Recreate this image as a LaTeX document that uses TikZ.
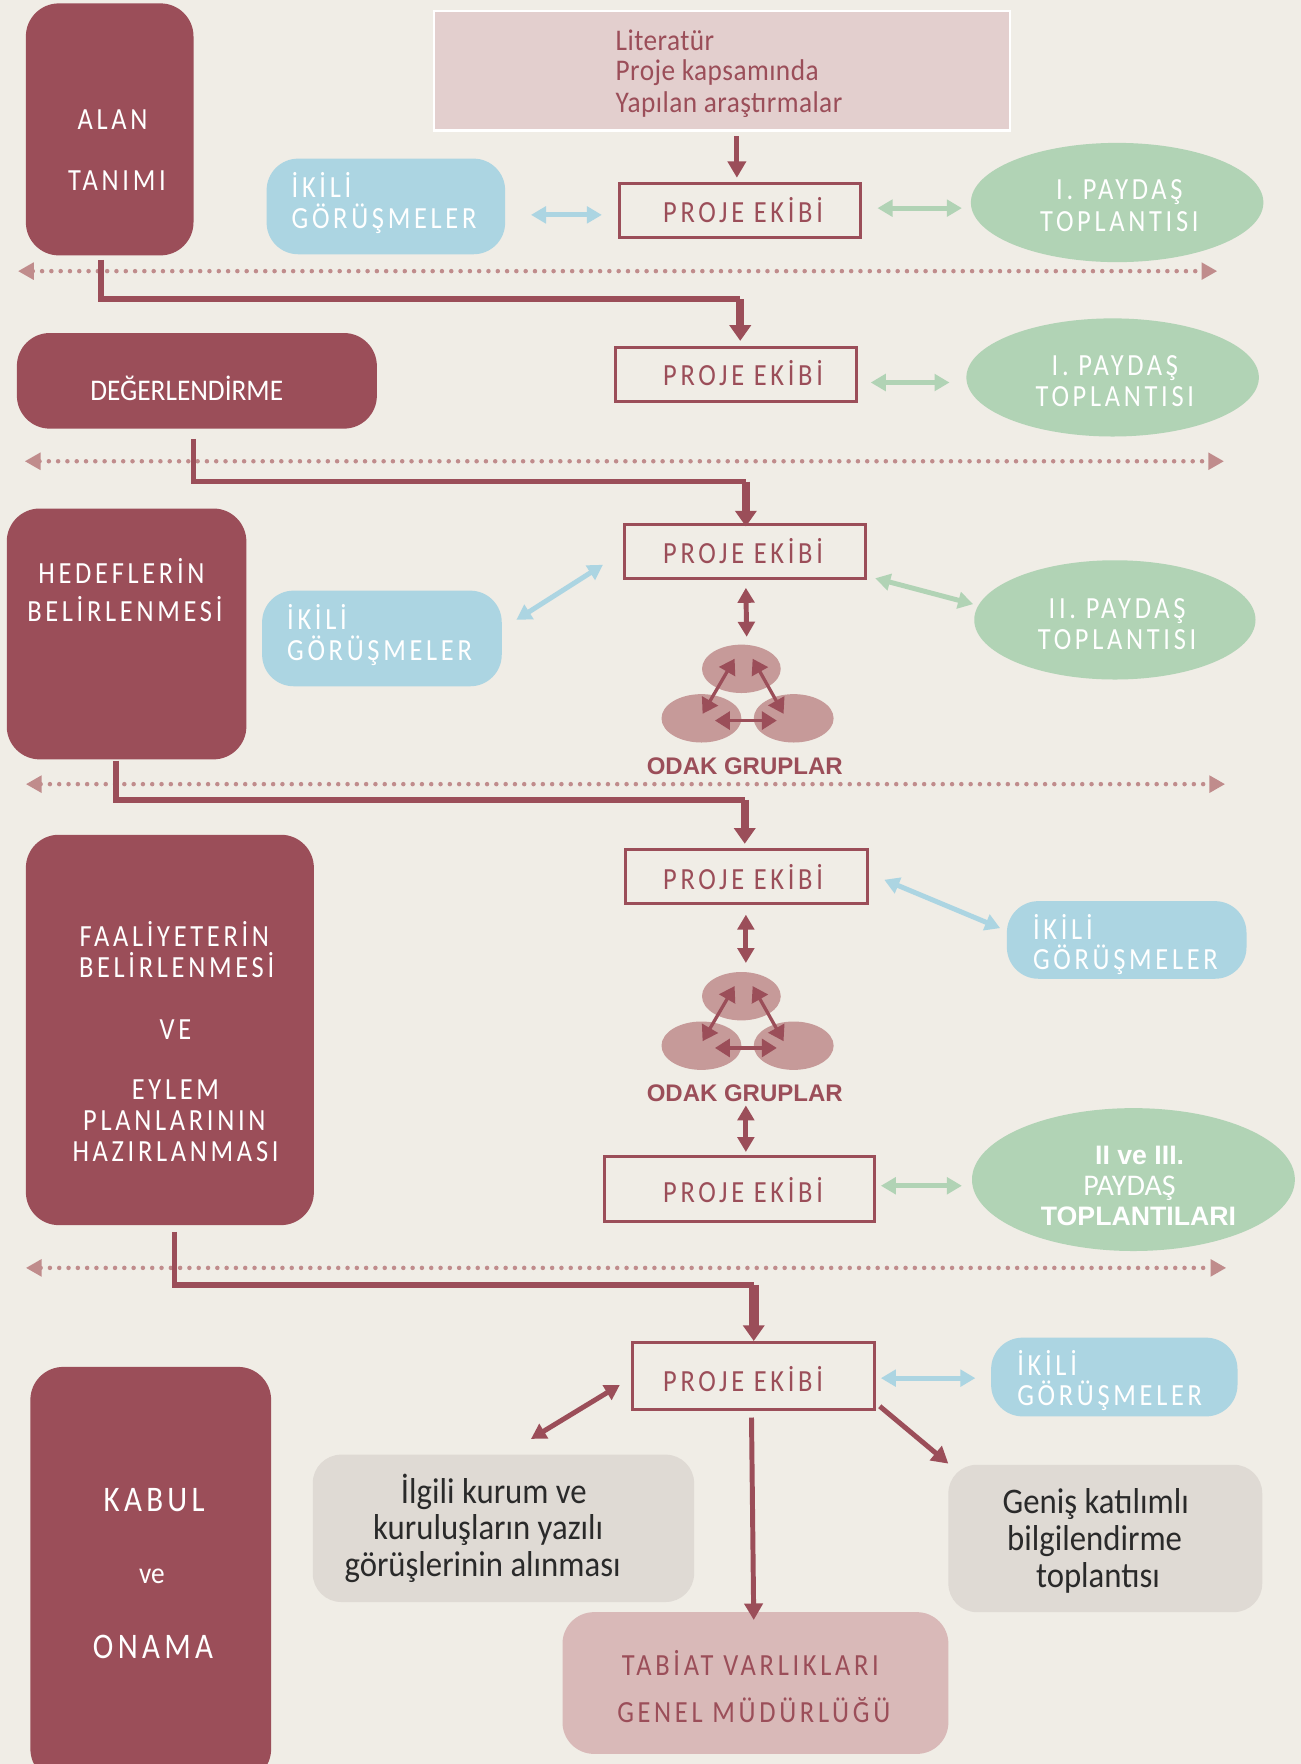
\documentclass[tikz,border=0pt]{standalone}
\usepackage{fontspec}
\setmainfont{Carlito}
\newfontfamily\araliklifont[LetterSpace=12,FakeStretch=0.86]{Carlito}
\newfontfamily\darfont[FakeStretch=0.91]{Carlito}
\newfontfamily\litfont[LetterSpace=1.5,FakeStretch=0.91]{Carlito}
\newfontfamily\kalinfont{Liberation Sans}
\usetikzlibrary{arrows.meta,shapes.geometric}

\definecolor{zemin}{HTML}{F0EDE6}
\definecolor{bordo}{HTML}{9B4E59}
\definecolor{pembe}{HTML}{E3CFCE}
\definecolor{gulkurusu}{HTML}{D9B9B8}
\definecolor{mavi}{HTML}{ACD5E2}
\definecolor{yesil}{HTML}{B1D3B5}
\definecolor{noktarenk}{HTML}{C08C8C}
\definecolor{odakrenk}{HTML}{C69A99}
\definecolor{gri}{HTML}{DFDAD4}
\definecolor{koyu}{HTML}{2A2A2A}

\tikzset{
  asama/.style={fill=bordo,rounded corners=22pt},
  ikili/.style={fill=mavi,rounded corners=21pt},
  grikutu/.style={fill=gri,rounded corners=19pt},
  ekip/.style={draw=bordo,line width=2pt},
  paydas/.style={ellipse,fill=yesil},
  odak/.style={ellipse,fill=odakrenk},
  yazi/.style={inner sep=0pt,text height=13pt,text depth=0pt,font=\fontsize{20.5}{24}\selectfont\araliklifont},
  beyaz/.style={yazi,text=white},
  bordoyazi/.style={yazi,text=bordo},
  litstil/.style={bordoyazi,font=\fontsize{20}{24}\selectfont\litfont},
  siyah/.style={inner sep=0pt,text height=14pt,text depth=0pt,text=koyu,font=\fontsize{24}{28}\selectfont\darfont},
  kalinyazi/.style={inner sep=0pt,text height=12.5pt,text depth=0pt,font=\fontsize{17.8}{20}\selectfont\kalinfont\bfseries},
  noktali/.style={noktarenk,line width=3pt,line cap=round,dash pattern=on 0pt off 6.2pt,
    {Triangle[length=10.5pt,width=11pt]}-{Triangle[length=10.5pt,width=11pt]}},
  cift/.style={line width=3.3pt,{Triangle[length=10pt,width=11pt]}-{Triangle[length=10pt,width=11pt]}},
  maviok/.style={cift,mavi},
  yesilok/.style={cift,yesil},
  bordook/.style={cift,bordo},
  kucukok/.style={bordo,line width=2.2pt,{Triangle[length=10pt,width=12pt]}-{Triangle[length=10pt,width=12pt]}},
  hat/.style={bordo,line width=3.8pt},
  inis/.style={bordo,line width=5.5pt,-{Triangle[length=10.5pt,width=14pt]}},
  tekok/.style={bordo,line width=3.3pt,-{Triangle[length=11pt,width=12pt]}},
}

% kutu: style, x1, y1, x2, y2, name
\newcommand{\kutu}[6]{\node[#1,inner sep=0pt,outer sep=0pt,minimum width={(#4-#2)*0.75pt},minimum height={(#5-#3)*0.75pt}] (#6) at ({(#2+#4)/2},{(#3+#5)/2}) {};}

\begin{document}
\begin{tikzpicture}[x=0.75pt,y=-0.75pt]
\useasboundingbox (0,0) rectangle (1156,1568);
\fill[zemin] (0,0) rectangle (1156,1568);

%left column
\kutu{asama}{23}{3}{172}{227}{alan}
\kutu{asama}{15}{296}{335}{381}{deger}
\kutu{asama}{6}{452}{219}{675}{hedef}
\kutu{asama}{23}{742}{279}{1089}{faaliyet}
\kutu{asama}{27}{1215}{241}{1584}{kabul}

% Text Node
\node[beyaz] (alan1) at (100,106) {ALAN};
\node[beyaz] (alan2) at (104,161) {TANIMI};
\node[beyaz,font=\fontsize{20}{24}\selectfont\darfont] (deger1) at (166,347) {DEĞERLENDİRME};
\node[beyaz] (hedef1) at (108,510) {HEDEFLERİN};
\node[beyaz] (hedef2) at (111,544) {BELİRLENMESİ};
\node[beyaz] (faal1) at (155,833) {FAALİYETERİN};
\node[beyaz] (faal2) at (157,860) {BELİRLENMESİ};
\node[beyaz] (faal3) at (156,915) {VE};
\node[beyaz] (faal4) at (156,969) {EYLEM};
\node[beyaz] (faal5) at (155,996) {PLANLARININ};
\node[beyaz] (faal6) at (156,1024) {HAZIRLANMASI};
\node[beyaz,font=\fontsize{24}{28}\selectfont\araliklifont,text height=15.5pt] (kabul1) at (137,1333) {KABUL};
\node[beyaz,font=\fontsize{20}{24}\selectfont\darfont,text height=10pt] (kabul2) at (135,1401) {ve};
\node[beyaz,font=\fontsize{24}{28}\selectfont\araliklifont,text height=15.5pt] (kabul3) at (136,1464) {ONAMA};

%literature box
\kutu{fill=pembe,draw=white,line width=1.5pt}{386}{10}{898}{116}{lit}
\node[litstil,anchor=west] (lit1) at (547,36) {Literatür};
\node[litstil,anchor=west] (lit2) at (547,63) {Proje kapsamında};
\node[litstil,anchor=west] (lit3) at (547,91) {Yapılan araştırmalar};

%project team boxes
\kutu{ekip}{551}{163}{765}{211}{ekip1}
\kutu{ekip}{547}{309}{761}{357}{ekip2}
\kutu{ekip}{555}{466}{769}{514}{ekip3}
\kutu{ekip}{556}{755}{771}{803}{ekip4}
\kutu{ekip}{537}{1028}{777}{1086}{ekip5}
\kutu{ekip}{562}{1193}{777}{1253}{ekip6}
\node[bordoyazi] (ekip1t) at (660.5,189) {PROJE EKİBİ};
\node[bordoyazi] (ekip2t) at (660.5,334) {PROJE EKİBİ};
\node[bordoyazi] (ekip3t) at (660.5,492) {PROJE EKİBİ};
\node[bordoyazi] (ekip4t) at (660.5,782) {PROJE EKİBİ};
\node[bordoyazi] (ekip5t) at (660.5,1060) {PROJE EKİBİ};
\node[bordoyazi] (ekip6t) at (660.5,1228) {PROJE EKİBİ};

%bilateral meetings
\kutu{ikili}{237}{141}{449}{226}{ikili1}
\kutu{ikili}{233}{525}{446}{610}{ikili2}
\kutu{ikili}{895}{801}{1108}{870}{ikili3}
\kutu{ikili}{881}{1189}{1100}{1259}{ikili4}
\node[beyaz,anchor=west] (ikili1a) at (259,167) {İKİLİ};
\node[beyaz,anchor=west] (ikili1b) at (259,194) {GÖRÜŞMELER};
\node[beyaz,anchor=west] (ikili2a) at (255,551) {İKİLİ};
\node[beyaz,anchor=west] (ikili2b) at (255,578) {GÖRÜŞMELER};
\node[beyaz,anchor=west] (ikili3a) at (918,826) {İKİLİ};
\node[beyaz,anchor=west] (ikili3b) at (918,853) {GÖRÜŞMELER};
\node[beyaz,anchor=west] (ikili4a) at (904,1214) {İKİLİ};
\node[beyaz,anchor=west] (ikili4b) at (904,1241) {GÖRÜŞMELER};

%stakeholder meetings
\kutu{paydas}{863}{127}{1123}{233}{pay1}
\kutu{paydas}{859}{283}{1119}{388}{pay2}
\kutu{paydas}{866}{498}{1116}{604}{pay3}
\kutu{paydas}{864}{985}{1151}{1112}{pay4}
\node[beyaz] (pay1a) at (995,169) {I. PAYDAŞ};
\node[beyaz] (pay1b) at (995,197) {TOPLANTISI};
\node[beyaz] (pay2a) at (991,325) {I. PAYDAŞ};
\node[beyaz] (pay2b) at (991,353) {TOPLANTISI};
\node[beyaz] (pay3a) at (993,541) {II. PAYDAŞ};
\node[beyaz] (pay3b) at (993,569) {TOPLANTISI};
\node[kalinyazi,text=white] (pay4a) at (1013,1027) {II ve III.};
\node[beyaz,font=\fontsize{20}{24}\selectfont] (pay4b) at (1004,1054) {PAYDAŞ};
\node[kalinyazi,text=white] (pay4c) at (1012,1081) {TOPLANTILARI};

%focus groups
\kutu{odak}{624}{573}{694}{616}{ust1}
\kutu{odak}{588}{617}{659}{660}{sol1}
\kutu{odak}{670}{617}{741}{660}{sag1}
\kutu{odak}{624}{864}{694}{907}{ust2}
\kutu{odak}{588}{908}{659}{951}{sol2}
\kutu{odak}{670}{908}{741}{951}{sag2}
\node[kalinyazi,text=bordo,font=\fontsize{16}{20}\selectfont\kalinfont\bfseries] (odak1) at (662,680) {ODAK GRUPLAR};
\node[kalinyazi,text=bordo,font=\fontsize{16}{20}\selectfont\kalinfont\bfseries] (odak2) at (662,971) {ODAK GRUPLAR};
\draw[kucukok] ([shift={(-6,-9)}]ust1.center) -- ([shift={(1,-4)}]sol1.center);
\draw[kucukok] ([shift={(10,-9)}]ust1.center) -- ([shift={(-9,-4)}]sag1.center);
\draw[kucukok] ([shift={(12,2)}]sol1.center) -- ([shift={(-15,2)}]sag1.center);
\draw[kucukok] ([shift={(-6,-9)}]ust2.center) -- ([shift={(1,-4)}]sol2.center);
\draw[kucukok] ([shift={(10,-9)}]ust2.center) -- ([shift={(-9,-4)}]sag2.center);
\draw[kucukok] ([shift={(12,2)}]sol2.center) -- ([shift={(-15,2)}]sag2.center);

%lower boxes
\kutu{grikutu}{278}{1293}{617}{1424}{ilgili}
\kutu{grikutu}{843}{1302}{1122}{1433}{genis}
\kutu{fill=gulkurusu,rounded corners=21pt}{500}{1433}{843}{1559}{tabiat}
\node[siyah] (ilgili1) at (439,1327) {İlgili kurum ve};
\node[siyah] (ilgili2) at (434,1359) {kuruluşların yazılı};
\node[siyah] (ilgili3) at (429,1392) {görüşlerinin alınması};
\node[siyah] (genis1) at (974,1336) {Geniş katılımlı};
\node[siyah] (genis2) at (973,1369) {bilgilendirme};
\node[siyah] (genis3) at (976,1402) {toplantısı};
\node[bordoyazi] (tabiat1) at (667,1481) {TABİAT VARLIKLARI};
\node[bordoyazi] (tabiat2) at (670,1522) {GENEL MÜDÜRLÜĞÜ};

%dotted separators
\coordinate (nok1a) at (16,241);
\coordinate (nok1b) at (1082,241);
\coordinate (nok2a) at (22,410);
\coordinate (nok2b) at (1088,410);
\coordinate (nok3a) at (23,697);
\coordinate (nok3b) at (1089,697);
\coordinate (nok4a) at (23,1127);
\coordinate (nok4b) at (1090,1127);
\draw[noktali] (nok1a) -- (nok1b);
\draw[noktali] (nok2a) -- (nok2b);
\draw[noktali] (nok3a) -- (nok3b);
\draw[noktali] (nok4a) -- (nok4b);

%connectors between stages
\coordinate (kose1) at (658,266);
\coordinate (kose2) at (663,428);
\coordinate (kose3) at (662,711);
\coordinate (kose4) at (670,1142);
\draw[hat] ([shift={(-7.5,4)}]alan.south) |- (kose1);
\draw[inis] (kose1) -- ([shift={(0,-6)}]kose1 |- ekip2.north);
\draw[hat] ([shift={(-3,9)}]deger.south) |- (kose2);
\draw[inis] (kose2) -- ([shift={(0,2)}]kose2 |- ekip3.north);
\draw[hat] ([shift={(-9.5,1)}]hedef.south) |- (kose3);
\draw[inis] (kose3) -- ([shift={(0,-5)}]kose3 |- ekip4.north);
\draw[hat] ([shift={(4,6)}]faaliyet.south) |- (kose4);
\draw[inis,line width=6.5pt] (kose4) -- ([shift={(0,-1)}]kose4 |- ekip6.north);

%arrows
\draw[tekok] ([shift={(13,5)}]lit.south) -- ([shift={(-3,-5)}]ekip1.north);
\draw[maviok] ([shift={(23,7.5)}]ikili1.east) -- ([shift={(-16,4)}]ekip1.west);
\draw[yesilok] ([shift={(15,-2)}]ekip1.east) -- ([shift={(-8,5)}]pay1.west);
\draw[yesilok] ([shift={(13,7)}]ekip2.east) -- ([shift={(-15,4.5)}]pay2.west);
\draw[maviok] ([shift={(13,-16.5)}]ikili2.east) -- ([shift={(-19,12)}]ekip3.west);
\draw[yesilok] ([shift={(9,24)}]ekip3.east) -- ([shift={(-1,-14)}]pay3.west);
\draw[bordook] ([shift={(1,8.5)}]ekip3.south) -- ([shift={(4.7,-7)}]ust1.north);
\draw[maviok] ([shift={(15,3)}]ekip4.east) -- ([shift={(-6,-10.5)}]ikili3.west);
\draw[bordook] ([shift={(-.5,10)}]ekip4.south) -- ([shift={(4,-8)}]ust2.north);
\draw[bordook] ([shift={(1,3)}]odak2.south) -- ([shift={(6,-4)}]ekip5.north);
\draw[yesilok] ([shift={(6,-3)}]ekip5.east) -- ([shift={(-9,5.5)}]pay4.west);
\draw[maviok] ([shift={(6,2)}]ekip6.east) -- ([shift={(-14,1)}]ikili4.west);
\draw[bordook] ([shift={(24.5,-14)}]ilgili.north) -- ([shift={(-11,8)}]ekip6.west);
\draw[tekok] ([shift={(-1.5,7)}]ekip6.south) -- ([shift={(-1.5,7)}]tabiat.north);
\draw[tekok] ([shift={(5,-3)}]ekip6.south east) -- ([shift={(0,-1)}]genis.north west);
\end{tikzpicture}
\end{document}
